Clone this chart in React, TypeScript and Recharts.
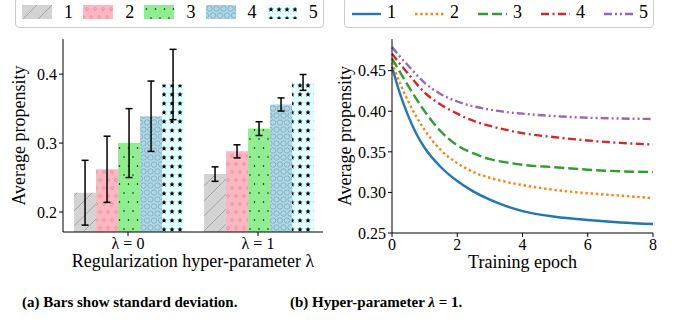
import React from "react";
import { BarChart, Bar, ErrorBar, LineChart, Line, XAxis, YAxis, Legend } from "recharts";

const FONT = '"Liberation Serif", "Times New Roman", serif';

// (a) bar chart
const lambdas = ["0", "1"];
const seriesNames = ["1", "2", "3", "4", "5"];
const barMeans = [
  [0.228, 0.255],
  [0.262, 0.288],
  [0.3, 0.321],
  [0.339, 0.356],
  [0.385, 0.388],
];
const barStd = [
  [0.047, 0.0105],
  [0.048, 0.0095],
  [0.05, 0.01],
  [0.051, 0.0095],
  [0.051, 0.0115],
];
const barTicks = [0.2, 0.3, 0.4];

// (b) line chart
const epochs = [0, 0.25, 0.5, 0.75, 1, 1.5, 2, 2.5, 3, 3.5, 4, 5, 6, 7, 8];
const curve1 = [0.455, 0.421, 0.394, 0.372, 0.355, 0.331, 0.314, 0.301, 0.291, 0.283, 0.277, 0.27, 0.266, 0.263, 0.261];
const curve2 = [0.46, 0.434, 0.412, 0.393, 0.377, 0.352, 0.336, 0.325, 0.318, 0.313, 0.309, 0.303, 0.299, 0.296, 0.293];
const curve3 = [0.465, 0.448, 0.431, 0.415, 0.4, 0.375, 0.358, 0.348, 0.341, 0.337, 0.334, 0.331, 0.328, 0.326, 0.325];
const curve4 = [0.471, 0.458, 0.446, 0.434, 0.423, 0.408, 0.397, 0.388, 0.382, 0.377, 0.373, 0.368, 0.364, 0.361, 0.359];
const curve5 = [0.479, 0.467, 0.456, 0.445, 0.435, 0.421, 0.412, 0.406, 0.402, 0.399, 0.397, 0.394, 0.392, 0.391, 0.3905];
const lineTicksY = [0.25, 0.3, 0.35, 0.4, 0.45];
const lineTicksX = [0, 2, 4, 6, 8];

const curves = [curve1, curve2, curve3, curve4, curve5];
const lineColors = ["#1f77b4", "#ff7f0e", "#2ca02c", "#d62728", "#9467bd"];
const lineDash = ["", "2.4 2.8", "10 4", "8 3.5 2 3.5", "8 3 2 3 2 3"];
const patIds = ["hatch1", "hatch2", "hatch3", "hatch4", "hatch5"];

const barRows = lambdas.map((lam, g) => {
  const row: Record<string, number | string> = { lam };
  seriesNames.forEach((_, i) => {
    row[`s${i + 1}`] = barMeans[i][g];
    row[`e${i + 1}`] = barStd[i][g];
  });
  return row;
});

const lineRows = epochs.map((t, k) => {
  const row: Record<string, number> = { t };
  curves.forEach((c, i) => {
    row[`c${i + 1}`] = c[k];
  });
  return row;
});

const starPts = "0,-2.8 0.71,-0.98 2.66,-0.87 1.15,0.37 1.65,2.27 0,1.21 -1.65,2.27 -1.15,0.37 -2.66,-0.87 -0.71,-0.98";

function Patterns() {
  return (
    <defs>
      <pattern id="hatch1" patternUnits="userSpaceOnUse" width={15} height={15}>
        <rect width={15} height={15} fill="#d3d3d3" />
        <path d="M0,15 L15,0 M-2,2 L2,-2 M13,17 L17,13" stroke="#9a9a9a" strokeWidth={0.8} />
      </pattern>
      <pattern id="hatch2" patternUnits="userSpaceOnUse" width={8} height={16}>
        <rect width={8} height={16} fill="#ffb6c1" />
        <circle cx={4} cy={4} r={1.4} fill="none" stroke="#c08a92" strokeWidth={0.6} />
        <circle cx={0} cy={12} r={1.4} fill="none" stroke="#c08a92" strokeWidth={0.6} />
        <circle cx={8} cy={12} r={1.4} fill="none" stroke="#c08a92" strokeWidth={0.6} />
      </pattern>
      <pattern id="hatch3" patternUnits="userSpaceOnUse" width={9} height={18}>
        <rect width={9} height={18} fill="#90ee90" />
        <circle cx={2.5} cy={4} r={0.75} fill="#000" />
        <circle cx={7} cy={13} r={0.75} fill="#000" />
      </pattern>
      <pattern id="hatch4" patternUnits="userSpaceOnUse" width={7} height={14}>
        <rect width={7} height={14} fill="#add8e6" />
        <circle cx={3.5} cy={3.5} r={2.7} fill="none" stroke="#6f93a8" strokeWidth={0.6} />
        <circle cx={0} cy={10.5} r={2.7} fill="none" stroke="#6f93a8" strokeWidth={0.6} />
        <circle cx={7} cy={10.5} r={2.7} fill="none" stroke="#6f93a8" strokeWidth={0.6} />
      </pattern>
      <pattern id="hatch5" patternUnits="userSpaceOnUse" width={8} height={9}>
        <rect width={8} height={9} fill="#e0ffff" />
        <polygon points={starPts} transform="translate(4,4.5)" fill="#000" />
      </pattern>
    </defs>
  );
}

const legendBox: React.CSSProperties = {
  position: "absolute",
  left: 0,
  top: -3,
  height: 31,
  border: "1px solid #cccccc",
  borderRadius: 4,
  background: "#fff",
  boxSizing: "border-box",
};

const legendText: React.CSSProperties = {
  position: "absolute",
  top: 1,
  fontFamily: FONT,
  fontSize: 18,
  lineHeight: "26px",
  color: "#000",
};

function BarLegend() {
  return (
    <div style={{ position: "relative", height: 39 }}>
      <div style={{ ...legendBox, width: 309 }}>
        {seriesNames.map((n, i) => (
          <React.Fragment key={n}>
            <svg width={30} height={14} style={{ position: "absolute", left: 6 + i * 61.2, top: 7 }}>
              <rect width={30} height={14} fill={`url(#${patIds[i]})`} />
            </svg>
            <span style={{ ...legendText, left: 48 + i * 61.2 }}>{n}</span>
          </React.Fragment>
        ))}
      </div>
    </div>
  );
}

function LineLegend() {
  return (
    <div style={{ position: "relative", height: 39 }}>
      <div style={{ ...legendBox, width: 310 }}>
        {seriesNames.map((n, i) => (
          <React.Fragment key={n}>
            <svg width={30} height={6} style={{ position: "absolute", left: 7 + i * 63, top: 13 }}>
              <line x1={0} x2={29} y1={3} y2={3} stroke={lineColors[i]} strokeWidth={2.4} strokeDasharray={lineDash[i] || undefined} />
            </svg>
            <span style={{ ...legendText, left: 42 + i * 63 }}>{n}</span>
          </React.Fragment>
        ))}
      </div>
    </div>
  );
}

function LambdaTick(props: any) {
  const { x, y, payload } = props;
  return (
    <text x={x} y={y} dy={10.5} textAnchor="middle" fontSize={16} style={{ fontFamily: FONT }} fill="#000">
      {"λ = " + payload.value}
    </text>
  );
}

function BarXLabel(props: any) {
  const { viewBox } = props;
  return (
    <text x={viewBox.x + viewBox.width / 2} y={viewBox.y + 35} textAnchor="middle" fontSize={18} style={{ fontFamily: FONT }} fill="#000">
      Regularization hyper-parameter λ
    </text>
  );
}

function LineXLabel(props: any) {
  const { viewBox } = props;
  return (
    <text x={viewBox.x + viewBox.width / 2} y={viewBox.y + 35} textAnchor="middle" fontSize={18} style={{ fontFamily: FONT }} fill="#000">
      Training epoch
    </text>
  );
}

const tickStyle = { fontSize: 16, fill: "#000", style: { fontFamily: FONT } };
const yLabel = (offset: number) => ({
  value: "Average propensity",
  angle: -90,
  position: "insideLeft" as const,
  offset,
  style: { textAnchor: "middle" as const, fontSize: 18, fontFamily: FONT, fill: "#000" },
});

const caption: React.CSSProperties = {
  position: "absolute",
  top: 295,
  fontFamily: FONT,
  fontSize: 15,
  fontWeight: "bold",
  lineHeight: "15px",
  color: "#000",
  whiteSpace: "nowrap",
};

export default function App() {
  const barDomain: [number, number] = [0.171, 0.451];
  return (
    <div
      style={{
        position: "absolute",
        left: 0,
        top: 0,
        width: 678,
        height: 320,
        background: "#fff",
        overflow: "hidden",
        fontFamily: FONT,
      }}
    >
      <div style={{ position: "absolute", left: 0, top: 0 }}>
        <BarChart
          width={325}
          height={280}
          data={barRows}
          margin={{ top: 0, right: 2, bottom: 0, left: 0 }}
          barCategoryGap="8.5%"
          barGap={0}
          style={{ fontFamily: FONT }}
        >
          <Patterns />
          <Legend verticalAlign="top" height={39} content={<BarLegend />} wrapperStyle={{ left: 15, width: 309, top: 0 }} />
          <XAxis
            dataKey="lam"
            height={48}
            tick={<LambdaTick />}
            tickSize={4}
            axisLine={{ stroke: "#000" }}
            tickLine={{ stroke: "#000" }}
            label={<BarXLabel />}
          />
          <XAxis xAxisId="top" orientation="top" dataKey="lam" height={0} tick={false} tickLine={false} axisLine={{ stroke: "#000" }} />
          <YAxis
            width={63}
            domain={barDomain}
            ticks={barTicks}
            allowDataOverflow
            tickSize={4}
            tick={tickStyle}
            axisLine={{ stroke: "#000" }}
            tickLine={{ stroke: "#000" }}
            label={yLabel(19)}
          />
          <YAxis yAxisId="right" orientation="right" width={0} domain={barDomain} tick={false} tickLine={false} axisLine={{ stroke: "#000" }} />
          {seriesNames.map((n, i) => (
            <Bar key={n} dataKey={`s${i + 1}`} name={n} fill={`url(#${patIds[i]})`} isAnimationActive={false}>
              <ErrorBar dataKey={`e${i + 1}`} width={3.5} stroke="#000" strokeWidth={1.5} direction="y" />
            </Bar>
          ))}
        </BarChart>
      </div>
      <div style={{ position: "absolute", left: 325, top: 0 }}>
        <LineChart
          width={353}
          height={280}
          data={lineRows}
          margin={{ top: 0, right: 25, bottom: 0, left: 0 }}
          style={{ fontFamily: FONT }}
        >
          <Legend verticalAlign="top" height={39} content={<LineLegend />} wrapperStyle={{ left: 19, width: 310, top: 0 }} />
          <XAxis
            dataKey="t"
            type="number"
            domain={[0, 8]}
            ticks={lineTicksX}
            height={47}
            tickSize={4}
            tick={tickStyle}
            axisLine={{ stroke: "#000" }}
            tickLine={{ stroke: "#000" }}
            label={<LineXLabel />}
          />
          <XAxis xAxisId="top" orientation="top" dataKey="t" type="number" domain={[0, 8]} height={0} tick={false} tickLine={false} axisLine={{ stroke: "#000" }} />
          <YAxis
            width={67}
            domain={[0.25, 0.489]}
            ticks={lineTicksY}
            allowDataOverflow
            tickSize={4}
            tick={tickStyle}
            tickFormatter={(v: number) => v.toFixed(2)}
            axisLine={{ stroke: "#000" }}
            tickLine={{ stroke: "#000" }}
            label={yLabel(20)}
          />
          <YAxis yAxisId="right" orientation="right" width={0} domain={[0.25, 0.489]} tick={false} tickLine={false} axisLine={{ stroke: "#000" }} />
          {seriesNames.map((n, i) => (
            <Line
              key={n}
              type="monotone"
              dataKey={`c${i + 1}`}
              name={n}
              stroke={lineColors[i]}
              strokeWidth={2.4}
              strokeDasharray={lineDash[i] || undefined}
              dot={false}
              isAnimationActive={false}
            />
          ))}
        </LineChart>
      </div>
      <div style={{ ...caption, left: 22 }}>(a) Bars show standard deviation.</div>
      <div style={{ ...caption, left: 290 }}>
        (b) Hyper-parameter <span style={{ fontStyle: "italic" }}>λ</span> = 1.
      </div>
    </div>
  );
}
